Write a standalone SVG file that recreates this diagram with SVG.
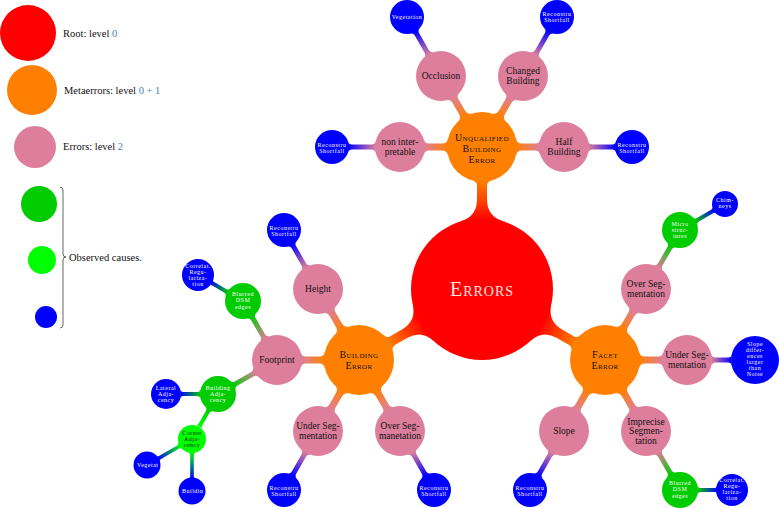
<svg xmlns="http://www.w3.org/2000/svg" width="779" height="508" viewBox="0 0 779 508">
<style>
text{font-family:"Liberation Serif","DejaVu Serif",serif;text-anchor:middle}
.root{fill:#ff0000}
.meta{fill:#ff8000}
.err{fill:#dd7f9c}
.blue{fill:#0000ff}
.dg{fill:#00cc00}
.lg{fill:#00ff00}
.tr{font-size:20px;font-variant:small-caps;fill:#ffe4e4;letter-spacing:1px}
.tm{font-size:10px;font-variant:small-caps;fill:#111;letter-spacing:0.4px}
.te{font-size:9.5px;fill:#111}
.ts{font-size:6px;fill:#fff;letter-spacing:0.5px}
.tsd{font-size:6px;fill:#111;letter-spacing:0.5px}
.st{text-anchor:start}
.lt{font-size:10.5px;fill:#111;text-anchor:start}
.num{fill:#4682b4}
</style>
<defs>
<linearGradient id="gRO" x1="0" y1="0" x2="1" y2="0"><stop offset="0" stop-color="#ff0000"/><stop offset="1" stop-color="#ff8000"/></linearGradient>
<linearGradient id="gOP" x1="0" y1="0" x2="1" y2="0"><stop offset="0" stop-color="#ff8000"/><stop offset="1" stop-color="#dd7f9c"/></linearGradient>
<linearGradient id="gPB" x1="0" y1="0" x2="1" y2="0"><stop offset="0" stop-color="#dd7f9c"/><stop offset="1" stop-color="#0000ff"/></linearGradient>
<linearGradient id="gPG" x1="0" y1="0" x2="1" y2="0"><stop offset="0" stop-color="#dd7f9c"/><stop offset="1" stop-color="#00cc00"/></linearGradient>
<linearGradient id="gGB" x1="0" y1="0" x2="1" y2="0"><stop offset="0" stop-color="#00cc00"/><stop offset="1" stop-color="#0000ff"/></linearGradient>
<linearGradient id="gGL" x1="0" y1="0" x2="1" y2="0"><stop offset="0" stop-color="#00cc00"/><stop offset="1" stop-color="#00ff00"/></linearGradient>
<linearGradient id="gLB" x1="0" y1="0" x2="1" y2="0"><stop offset="0" stop-color="#00ff00"/><stop offset="1" stop-color="#0000ff"/></linearGradient>
<path id="cA" d="M67.8,-21 Q72.8,-5 89.5,-5 L103,-5 Q107.1,-5 108.2,-9 L108.2,9 Q107.1,5 103,5 L89.5,5 Q72.8,5 67.8,21 Z"/>
<path id="cB" d="M34.07,-8 Q35.13,-3.5 39.75,-3.5 L53.3,-3.5 Q56.98,-3.5 58,-7 L58,7 Q56.98,3.5 53.3,3.5 L39.75,3.5 Q35.13,3.5 34.07,8 Z"/>
<path id="cC" d="M24.27,-6 Q25.13,-2.5 28.7,-2.5 L48.4,-2.5 Q50.98,-2.5 51.75,-5 L51.75,5 Q50.98,2.5 48.4,2.5 L28.7,2.5 Q25.13,2.5 24.27,6 Z"/>
<path id="cC2" d="M24.27,-6 Q25.13,-2.5 28.7,-2.5 L47.4,-2.5 Q49.99,-2.5 50.71,-5 L50.71,5 Q49.99,2.5 47.4,2.5 L28.7,2.5 Q25.13,2.5 24.27,6 Z"/>
<path id="cC3" d="M24.27,-6 Q25.13,-2.5 28.7,-2.5 L41.4,-2.5 Q44,-2.5 44.53,-5 L44.53,5 Q44,2.5 41.4,2.5 L28.7,2.5 Q25.13,2.5 24.27,6 Z"/>
<path id="cD" d="M17.43,-4.5 Q18.08,-2 20.66,-2 L34.9,-2 Q36.99,-2 37.54,-4 L37.54,4 Q36.99,2 34.9,2 L20.66,2 Q18.08,2 17.43,4.5 Z"/>
<path id="cD2" d="M17.43,-4.5 Q18.08,-2 20.66,-2 L37.5,-2 Q39.06,-2 39.48,-3.5 L39.48,3.5 Q39.06,2 37.5,2 L20.66,2 Q18.08,2 17.43,4.5 Z"/>
<path id="cE" d="M13.42,-4 Q14.08,-1.8 16.4,-1.8 L37.2,-1.8 Q39,-1.8 39.48,-3.5 L39.48,3.5 Q39,1.8 37.2,1.8 L16.4,1.8 Q14.08,1.8 13.42,4 Z"/>
</defs>
<rect width="779" height="508" fill="#fff"/>

<g id="legend">
<g id="legend-root"><circle class="root" cx="28" cy="33" r="28"/><text class="lt" x="63" y="37">Root: level <tspan class="num">0</tspan></text></g>
<g id="legend-meta"><circle class="meta" cx="32" cy="90" r="25"/><text class="lt" x="64" y="93.5">Metaerrors: level <tspan class="num">0 + 1</tspan></text></g>
<g id="legend-err"><circle class="err" cx="35" cy="147" r="21"/><text class="lt" x="63" y="150">Errors: level <tspan class="num">2</tspan></text></g>
<g id="legend-causes">
<circle class="dg" cx="39" cy="204" r="18"/>
<circle class="lg" cx="42" cy="260" r="14"/>
<circle class="blue" cx="46" cy="317" r="11"/>
<path d="M60,187 Q63,187 63,190 L63,254 Q63,257 66,257 Q63,257 63,260 L63,325 Q63,328 60,328" fill="none" stroke="#555" stroke-width="0.9"/>
<text class="lt" x="69" y="261">Observed causes.</text>
</g>
</g>

<g id="connectors">
<use href="#cA" fill="url(#gRO)" transform="translate(482,289) rotate(-90)"/>
<use href="#cA" fill="url(#gRO)" transform="translate(482,289) rotate(150)"/>
<use href="#cA" fill="url(#gRO)" transform="translate(482,289) rotate(30)"/>
<use href="#cB" fill="url(#gOP)" transform="translate(482,147) rotate(180)"/>
<use href="#cB" fill="url(#gOP)" transform="translate(482,147) rotate(-120)"/>
<use href="#cB" fill="url(#gOP)" transform="translate(482,147) rotate(-60)"/>
<use href="#cB" fill="url(#gOP)" transform="translate(482,147)"/>
<use href="#cC" fill="url(#gPB)" transform="translate(441,76) rotate(-120)"/>
<use href="#cC" fill="url(#gPB)" transform="translate(523,76) rotate(-60)"/>
<use href="#cC" fill="url(#gPB)" transform="translate(400,147) rotate(180)"/>
<use href="#cC" fill="url(#gPB)" transform="translate(564,147)"/>
<use href="#cB" fill="url(#gOP)" transform="translate(359,360) rotate(-120)"/>
<use href="#cB" fill="url(#gOP)" transform="translate(359,360) rotate(180)"/>
<use href="#cB" fill="url(#gOP)" transform="translate(359,360) rotate(120)"/>
<use href="#cB" fill="url(#gOP)" transform="translate(359,360) rotate(60)"/>
<use href="#cC" fill="url(#gPB)" transform="translate(318,289) rotate(-120)"/>
<use href="#cC2" fill="url(#gPG)" transform="translate(277,360) rotate(-120)"/>
<use href="#cC2" fill="url(#gPG)" transform="translate(277,360) rotate(150)"/>
<use href="#cD" fill="url(#gGB)" transform="translate(243,301) rotate(-150)"/>
<use href="#cD" fill="url(#gGB)" transform="translate(218,394) rotate(180)"/>
<use href="#cD" fill="url(#gGL)" transform="translate(218,394) rotate(120)"/>
<use href="#cE" fill="url(#gLB)" transform="translate(192,439) rotate(150)"/>
<use href="#cE" fill="url(#gLB)" transform="translate(192,439) rotate(90)"/>
<use href="#cC" fill="url(#gPB)" transform="translate(318,431) rotate(120)"/>
<use href="#cC" fill="url(#gPB)" transform="translate(400,431) rotate(60)"/>
<use href="#cB" fill="url(#gOP)" transform="translate(605,360) rotate(-60)"/>
<use href="#cB" fill="url(#gOP)" transform="translate(605,360)"/>
<use href="#cB" fill="url(#gOP)" transform="translate(605,360) rotate(60)"/>
<use href="#cB" fill="url(#gOP)" transform="translate(605,360) rotate(120)"/>
<use href="#cC2" fill="url(#gPG)" transform="translate(646,289) rotate(-60)"/>
<use href="#cD2" fill="url(#gGB)" transform="translate(680,230) rotate(-30)"/>
<use href="#cC3" fill="url(#gPB)" transform="translate(687,360)"/>
<use href="#cC" fill="url(#gPB)" transform="translate(564,431) rotate(120)"/>
<use href="#cC2" fill="url(#gPG)" transform="translate(646,431) rotate(60)"/>
<use href="#cD" fill="url(#gGB)" transform="translate(680,490)"/>
</g>

<g id="n-errors"><circle class="root" cx="482" cy="289" r="71"/><text class="tr" x="482" y="296">Errors</text></g>

<g id="n-unqualified"><circle class="meta" cx="482" cy="147" r="35"/>
<text class="tm" x="482" y="140.5">Unqualified</text><text class="tm" x="482" y="151.5">Building</text><text class="tm" x="482" y="162.5">Error</text></g>
<g id="n-building-error"><circle class="meta" cx="359" cy="360" r="35"/>
<text class="tm" x="359" y="357.5">Building</text><text class="tm" x="359" y="368.5">Error</text></g>
<g id="n-facet-error"><circle class="meta" cx="605" cy="360" r="35"/>
<text class="tm" x="605" y="357.5">Facet</text><text class="tm" x="605" y="368.5">Error</text></g>

<g id="n-occlusion"><circle class="err" cx="441" cy="76" r="25"/><text class="te" x="441" y="79">Occlusion</text></g>
<g id="n-changed"><circle class="err" cx="523" cy="76" r="25"/><text class="te" x="523" y="73.5">Changed</text><text class="te" x="523" y="83.5">Building</text></g>
<g id="n-noninterp"><circle class="err" cx="400" cy="147" r="25"/><text class="te" x="400" y="144.5">non inter-</text><text class="te" x="400" y="154.5">pretable</text></g>
<g id="n-half"><circle class="err" cx="564" cy="147" r="25"/><text class="te" x="564" y="144.5">Half</text><text class="te" x="564" y="154.5">Building</text></g>

<g id="n-vegetation"><circle class="blue" cx="407" cy="17" r="17"/><text class="ts" x="407" y="19">Vegetation</text></g>
<g id="n-recon1"><circle class="blue" cx="557" cy="17" r="17"/><text class="ts" x="557" y="16">Reconstru</text><text class="ts" x="557" y="22.3">Shortfall</text></g>
<g id="n-recon2"><circle class="blue" cx="332" cy="147" r="17"/><text class="ts" x="332" y="146.5">Reconstru</text><text class="ts" x="332" y="152.5">Shortfall</text></g>
<g id="n-recon3"><circle class="blue" cx="632" cy="147" r="17"/><text class="ts" x="632" y="146.5">Reconstru</text><text class="ts" x="632" y="152.5">Shortfall</text></g>

<g id="n-height"><circle class="err" cx="318" cy="289" r="25"/><text class="te" x="318" y="292">Height</text></g>
<g id="n-footprint"><circle class="err" cx="277" cy="360" r="25"/><text class="te" x="277" y="362.5">Footprint</text></g>
<g id="n-under-b"><circle class="err" cx="318" cy="431" r="25"/><text class="te" x="318" y="429">Under Seg-</text><text class="te" x="318" y="439">mentation</text></g>
<g id="n-over-b"><circle class="err" cx="400" cy="431" r="25"/><text class="te" x="400" y="429">Over Seg-</text><text class="te" x="400" y="439">manetation</text></g>

<g id="n-recon-h"><circle class="blue" cx="284" cy="230" r="17"/><text class="ts" x="284" y="229.5">Reconstru</text><text class="ts" x="284" y="235.5">Shortfall</text></g>
<g id="n-recon-ub"><circle class="blue" cx="284" cy="490" r="17"/><text class="ts" x="284" y="489.5">Reconstru</text><text class="ts" x="284" y="495.5">Shortfall</text></g>
<g id="n-recon-ob"><circle class="blue" cx="434" cy="490" r="17"/><text class="ts" x="434" y="489.5">Reconstru</text><text class="ts" x="434" y="495.5">Shortfall</text></g>

<g id="n-blurred-b"><circle class="dg" cx="243" cy="301" r="18"/><text class="ts" x="243" y="296">Blurred</text><text class="ts" x="243" y="302.3">DSM</text><text class="ts" x="243" y="308.6">edges</text></g>
<g id="n-correlat-b"><circle class="blue" cx="198" cy="275" r="16"/><text class="ts" x="198" y="267.5">Correlat.</text><text class="ts" x="198" y="273.5">Regu-</text><text class="ts" x="198" y="279.5">lariza-</text><text class="ts" x="198" y="285.5">tion</text></g>
<g id="n-building-adj"><circle class="dg" cx="218" cy="394" r="18"/><text class="ts" x="218" y="390">Building</text><text class="ts" x="218" y="396">Adja-</text><text class="ts" x="218" y="402">cency</text></g>
<g id="n-lateral-adj"><circle class="blue" cx="166" cy="394" r="15"/><text class="ts" x="166" y="390">Lateral</text><text class="ts" x="166" y="396">Adja-</text><text class="ts" x="166" y="402">cency</text></g>
<g id="n-corner-adj"><circle class="lg" cx="192" cy="439" r="14"/><text class="tsd" x="192" y="435">Corner</text><text class="tsd" x="192" y="441">Adja-</text><text class="tsd" x="192" y="447">cency</text></g>
<g id="n-vegetat"><circle class="blue" cx="147" cy="465" r="13.5"/><text class="ts st" x="137" y="467">Vegetat</text></g>
<g id="n-buildin"><circle class="blue" cx="192" cy="491" r="13.5"/><text class="ts st" x="182" y="493">Buildin</text></g>

<g id="n-over-f"><circle class="err" cx="646" cy="289" r="25"/><text class="te" x="646" y="287">Over Seg-</text><text class="te" x="646" y="296.5">mentation</text></g>
<g id="n-under-f"><circle class="err" cx="687" cy="360" r="25"/><text class="te" x="687" y="358">Under Seg-</text><text class="te" x="687" y="367.5">mentation</text></g>
<g id="n-slope"><circle class="err" cx="564" cy="431" r="25"/><text class="te" x="564" y="434">Slope</text></g>
<g id="n-imprecise"><circle class="err" cx="646" cy="431" r="25"/><text class="te" x="646" y="424.5">Imprecise</text><text class="te" x="646" y="434">Segmen-</text><text class="te" x="646" y="443.5">tation</text></g>

<g id="n-micro"><circle class="dg" cx="680" cy="230" r="18"/><text class="ts" x="680" y="225.5">Micro</text><text class="ts" x="680" y="231.5">struc-</text><text class="ts" x="680" y="237.5">tures</text></g>
<g id="n-chimneys"><circle class="blue" cx="725" cy="204" r="13"/><text class="ts" x="725" y="202">Chim-</text><text class="ts" x="725" y="208">neys</text></g>
<g id="n-slope-diff"><circle class="blue" cx="755" cy="360" r="24"/>
<text class="ts" x="755" y="346.3">Slope</text><text class="ts" x="755" y="352.3">differ-</text><text class="ts" x="755" y="358.3">ences</text><text class="ts" x="755" y="364.3">larger</text><text class="ts" x="755" y="370.3">than</text><text class="ts" x="755" y="376.3">Noise</text></g>
<g id="n-recon-s"><circle class="blue" cx="530" cy="490" r="17"/><text class="ts" x="530" y="489.5">Reconstru</text><text class="ts" x="530" y="495.5">Shortfall</text></g>
<g id="n-blurred-f"><circle class="dg" cx="680" cy="490" r="18"/><text class="ts" x="680" y="485.3">Blurred</text><text class="ts" x="680" y="491.3">DSM</text><text class="ts" x="680" y="497.7">edges</text></g>
<g id="n-correlat-f"><circle class="blue" cx="732" cy="490" r="16"/><text class="ts" x="732" y="482">Correlat.</text><text class="ts" x="732" y="488">Regu-</text><text class="ts" x="732" y="494">lariza-</text><text class="ts" x="732" y="500">tion</text></g>
</svg>
